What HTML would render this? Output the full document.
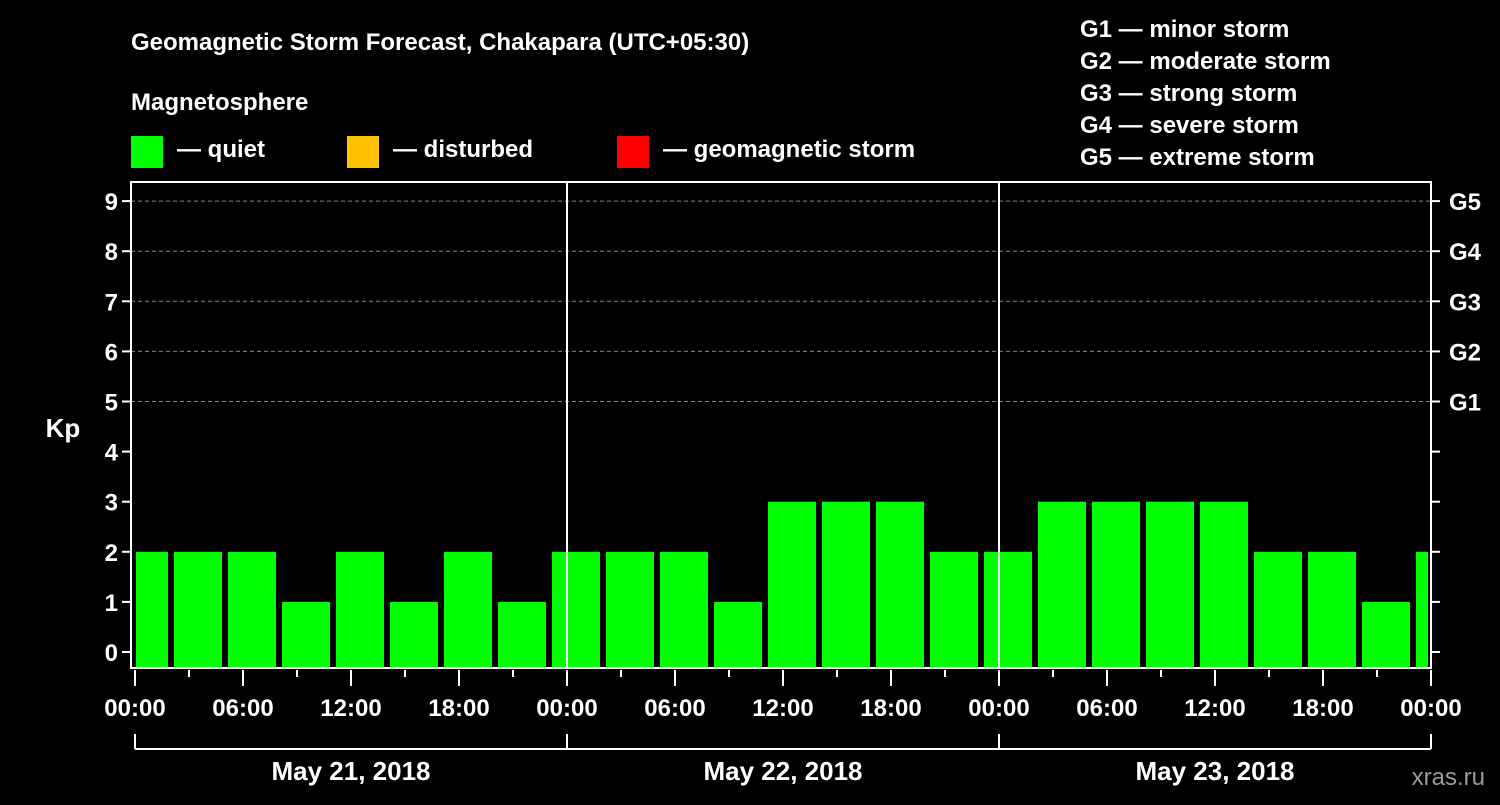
<!DOCTYPE html>
<html><head><meta charset="utf-8"><style>
body{margin:0;background:#000;width:1500px;height:800px;overflow:hidden;font-family:"Liberation Sans",sans-serif}
svg text{font-family:"Liberation Sans",sans-serif;font-weight:bold;fill:#fff}
</style></head><body>
<svg id="chart" width="1500" height="800">
<text x="131" y="50" font-size="24">Geomagnetic Storm Forecast, Chakapara (UTC+05:30)</text>
<text x="131" y="110" font-size="24">Magnetosphere</text>
<rect x="131" y="136" width="32" height="32" fill="#00ff00"/>
<text x="177" y="157" font-size="24">— quiet</text>
<rect x="347" y="136" width="32" height="32" fill="#ffc000"/>
<text x="393" y="157" font-size="24">— disturbed</text>
<rect x="617" y="136" width="32" height="32" fill="#ff0000"/>
<text x="663" y="157" font-size="24">— geomagnetic storm</text>
<g font-size="24">
<text x="1080" y="37">G1 — minor storm</text>
<text x="1080" y="69">G2 — moderate storm</text>
<text x="1080" y="101">G3 — strong storm</text>
<text x="1080" y="133">G4 — severe storm</text>
<text x="1080" y="165">G5 — extreme storm</text>
</g>
<text x="63" y="437" font-size="26" text-anchor="middle">Kp</text>
<text x="1485" y="785" font-size="24" text-anchor="end" fill="#888" style="fill:#9a9a9a;font-weight:normal">xras.ru</text>
<g id="plot"></g>
</svg>
<script>
const kpValues=[2,2,2,1,2,1,2,1,2,2,2,1,3,3,3,2,2,3,3,3,3,2,2,1,2];
const yTicks=[0,1,2,3,4,5,6,7,8,9];
const gLabels=["G1","G2","G3","G4","G5"];
const timeLabels=["00:00","06:00","12:00","18:00","00:00","06:00","12:00","18:00","00:00","06:00","12:00","18:00","00:00"];
const dateLabels=["May 21, 2018","May 22, 2018","May 23, 2018"];
const NS="http://www.w3.org/2000/svg";
const g=document.getElementById('plot');
const L=131,R=1431,T=182,B=668,X0=135,HR=18,START=-1; // first bar offset (hours)
const x=h=>X0+h*HR, y=v=>652-v*50.1;
function mk(t,a,p){const e=document.createElementNS(NS,t);for(const k in a)e.setAttribute(k,a[k]);(p||g).appendChild(e);return e;}
// bars
kpValues.forEach((v,i)=>{
 let h0=START+i*3,h1=h0+3;
 let x0=Math.max(x(h0)+3,X0+1),x1=Math.min(x(h1)-3,R-3);
 const c=v>=5?'#ff0000':(v>=4?'#ffc000':'#00ff00');
 const r=mk('rect',{x:x0,y:y(v),width:x1-x0,height:B-y(v),fill:c});
 
 
});
// grid
[5,6,7,8,9].forEach(v=>{const l=mk('line',{x1:L,x2:R,y1:y(v),y2:y(v),stroke:'#888','stroke-dasharray':'4,3','stroke-width':1});
 });
// day separators
[1,2].forEach(d=>{const l=mk('line',{x1:x(24*d),x2:x(24*d),y1:T,y2:B,stroke:'#fff','stroke-width':2});
 });
// frame
const f=mk('rect',{x:L,y:T,width:R-L,height:B-T,fill:'none',stroke:'#fff','stroke-width':2});

// y ticks
yTicks.forEach(v=>{
 mk('line',{x1:L-9,x2:L,y1:y(v),y2:y(v),stroke:'#fff','stroke-width':2});
 mk('line',{x1:R,x2:R+9,y1:y(v),y2:y(v),stroke:'#fff','stroke-width':2});
 const t=mk('text',{x:118,y:y(v)+9,'font-size':24,'text-anchor':'end'});t.textContent=v;
 
});
gLabels.forEach((s,i)=>{const t=mk('text',{x:1449,y:y(5+i)+9,'font-size':24});t.textContent=s;
 });
// x ticks
for(let h=0;h<=72;h+=3){const maj=h%6==0;mk('line',{x1:x(h),x2:x(h),y1:B+2,y2:B+(maj?18:9),stroke:'#fff','stroke-width':2});}
timeLabels.forEach((s,i)=>{const t=mk('text',{x:x(i*6),y:716,'font-size':24,'text-anchor':'middle'});t.textContent=s;
 });
// date bracket
mk('line',{x1:x(0),x2:x(72),y1:749,y2:749,stroke:'#fff','stroke-width':2});
for(let d=0;d<=3;d++)mk('line',{x1:x(24*d),x2:x(24*d),y1:734,y2:749,stroke:'#fff','stroke-width':2});
dateLabels.forEach((s,i)=>{const t=mk('text',{x:x(24*i+12),y:780,'font-size':26,'text-anchor':'middle'});t.textContent=s;
 });
</script>
</body></html>
